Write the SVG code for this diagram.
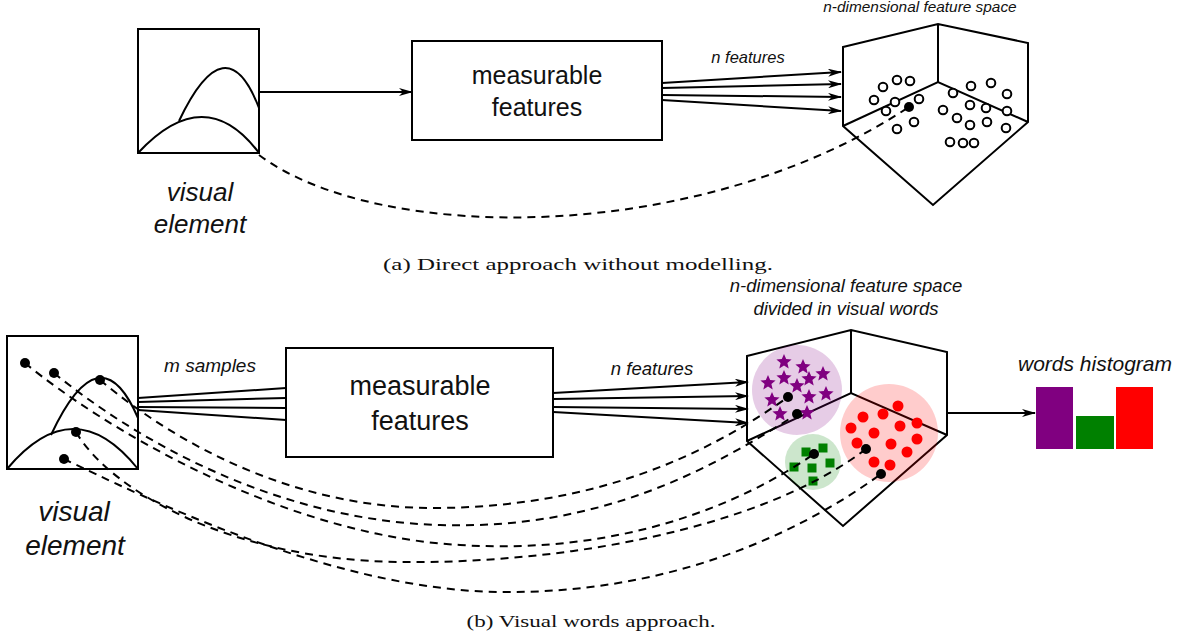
<svg xmlns="http://www.w3.org/2000/svg" width="1183" height="638" viewBox="0 0 1183 638">
<style>
.ln{fill:none;stroke:#000;stroke-width:2}
.dash{fill:none;stroke:#000;stroke-width:2;stroke-dasharray:8 6}
.bx{fill:#fff;stroke:#000;stroke-width:2}
.t{font-family:"Liberation Sans",Arial,sans-serif;font-style:italic;fill:#111;text-anchor:middle}
.tn{font-family:"Liberation Sans",Arial,sans-serif;fill:#111;text-anchor:middle}
.cap{font-family:"Liberation Serif","DejaVu Serif",serif;fill:#111;text-anchor:middle;font-size:16.5px}
.oc{fill:#fff;stroke:#000;stroke-width:2}
.bd{fill:#000}
</style>
<defs>
<marker id="ah" viewBox="0 0 14 8" refX="13" refY="4" markerWidth="14" markerHeight="8" markerUnits="userSpaceOnUse" orient="auto">
<path d="M0,0 L14,4 L0,8 L4,4 Z" fill="#000"/>
</marker>
<path id="star" d="M0,-8 L2.2,-2.9 L7.6,-2.5 L3.4,1.1 L4.7,6.5 L0,3.6 L-4.7,6.5 L-3.4,1.1 L-7.6,-2.5 L-2.2,-2.9 Z" fill="#800080"/>
<rect id="sq" x="-4.5" y="-4.5" width="9" height="9" fill="#008000"/>
</defs>

<!-- (a) -->
<g id="visual-element-a">
<rect class="bx" x="138" y="29" width="121" height="124"/>
<path class="ln" d="M138,153 Q205,81 259,153"/>
<path class="ln" d="M179,121 Q226,22 259,108"/>
<text class="t" x="200" y="201" font-size="26">visual</text>
<text class="t" x="200" y="233" font-size="26">element</text>
</g>
<g id="features-a">
<rect class="bx" x="412" y="41" width="250" height="99"/>
<text class="tn" x="537" y="84" font-size="25">measurable</text>
<text class="tn" x="537" y="116" font-size="25">features</text>
</g>
<g id="space-a">
<text class="t" x="920" y="12" font-size="15.4">n-dimensional feature space</text>
<path class="ln" d="M843,47 L938,24 L1028,43 L1028,122 L933,205 L843,126 Z M938,24 L938,82 M843,126 L938,82 L1028,122"/>
<g class="oc">
<circle cx="883" cy="87" r="4.3"/><circle cx="897" cy="80" r="4.3"/><circle cx="910" cy="81" r="4.3"/>
<circle cx="874" cy="100" r="4.3"/><circle cx="895" cy="102" r="4.3"/><circle cx="919" cy="99" r="4.3"/>
<circle cx="886" cy="111" r="4.3"/><circle cx="914" cy="122" r="4.3"/><circle cx="897" cy="129" r="4.3"/>
<circle cx="953" cy="93" r="4.3"/><circle cx="971" cy="86" r="4.3"/><circle cx="991" cy="83" r="4.3"/>
<circle cx="1007" cy="94" r="4.3"/><circle cx="943" cy="110" r="4.3"/><circle cx="970" cy="105" r="4.3"/>
<circle cx="986" cy="108" r="4.3"/><circle cx="1007" cy="111" r="4.3"/><circle cx="957" cy="118" r="4.3"/>
<circle cx="970" cy="125" r="4.3"/><circle cx="987" cy="122" r="4.3"/><circle cx="1006" cy="128" r="4.3"/>
<circle cx="950" cy="142" r="4.3"/><circle cx="963" cy="143" r="4.3"/><circle cx="974" cy="143" r="4.3"/>
</g>
<circle class="bd" cx="909" cy="107" r="5"/>
</g>
<g id="connectors-a">
<line class="ln" x1="259" y1="92" x2="412" y2="92" marker-end="url(#ah)"/>
<text class="t" x="748" y="63" font-size="16.5">n features</text>
<line class="ln" x1="662" y1="83" x2="841" y2="72" marker-end="url(#ah)"/>
<line class="ln" x1="662" y1="88" x2="841" y2="84" marker-end="url(#ah)"/>
<line class="ln" x1="662" y1="95" x2="841" y2="97" marker-end="url(#ah)"/>
<line class="ln" x1="662" y1="100" x2="841" y2="111" marker-end="url(#ah)"/>
<path class="dash" d="M259,155 C380,245 700,245 909,107"/>
</g>
<text class="cap" x="578" y="270" textLength="390" lengthAdjust="spacingAndGlyphs">(a) Direct approach without modelling.</text>

<!-- (b) -->
<g id="visual-element-b">
<rect class="bx" x="7" y="336" width="131" height="133"/>
<path class="ln" d="M7,469 Q74,389 138,469"/>
<path class="ln" d="M51,435 Q100,330 138,418"/>
<circle class="bd" cx="25" cy="363" r="5"/>
<circle class="bd" cx="54" cy="373" r="5"/>
<circle class="bd" cx="100" cy="380" r="5"/>
<circle class="bd" cx="76" cy="432" r="5"/>
<circle class="bd" cx="64" cy="459" r="5"/>
<text class="t" x="74" y="521" font-size="28">visual</text>
<text class="t" x="75" y="555" font-size="28">element</text>
</g>
<g id="features-b">
<rect class="bx" x="286" y="348" width="267" height="109"/>
<text class="tn" x="420" y="395" font-size="27">measurable</text>
<text class="tn" x="420" y="430" font-size="27">features</text>
</g>
<g id="space-b">
<text class="t" x="846" y="292" font-size="18.5">n-dimensional feature space</text>
<text class="t" x="846" y="315" font-size="18.5">divided in visual words</text>
<path class="ln" d="M747,356 L851,330 L947,352 L947,435 L843,526 L747,441 Z M851,330 L851,393 M747,441 L851,393 L947,435"/>
<circle cx="797" cy="390" r="45" fill="#800080" fill-opacity="0.2"/>
<circle cx="813" cy="462" r="28" fill="#008000" fill-opacity="0.2"/>
<circle cx="889" cy="433" r="49" fill="#ff0000" fill-opacity="0.2"/>
<use href="#star" x="784" y="362"/><use href="#star" x="803" y="367"/><use href="#star" x="823" y="374"/>
<use href="#star" x="768" y="383"/><use href="#star" x="784" y="378"/><use href="#star" x="809" y="379"/>
<use href="#star" x="797" y="386"/><use href="#star" x="826" y="394"/><use href="#star" x="772" y="400"/>
<use href="#star" x="809" y="397"/><use href="#star" x="780" y="414"/><use href="#star" x="807" y="413"/>
<use href="#sq" x="806" y="452"/><use href="#sq" x="823" y="448"/><use href="#sq" x="830" y="463"/>
<use href="#sq" x="794" y="467"/><use href="#sq" x="812" y="468"/><use href="#sq" x="813" y="481"/>
<g fill="#ff0000">
<circle cx="898" cy="406" r="5.5"/><circle cx="863" cy="417" r="5.5"/><circle cx="883" cy="414" r="5.5"/>
<circle cx="900" cy="426" r="5.5"/><circle cx="917" cy="423" r="5.5"/><circle cx="851" cy="428" r="5.5"/>
<circle cx="874" cy="433" r="5.5"/><circle cx="917" cy="439" r="5.5"/><circle cx="857" cy="443" r="5.5"/>
<circle cx="891" cy="444" r="5.5"/><circle cx="907" cy="452" r="5.5"/><circle cx="874" cy="462" r="5.5"/>
<circle cx="890" cy="465" r="5.5"/>
</g>
<circle class="bd" cx="788" cy="397" r="5"/>
<circle class="bd" cx="797" cy="414" r="5"/>
<circle class="bd" cx="814" cy="454" r="5"/>
<circle class="bd" cx="866" cy="449" r="5"/>
<circle class="bd" cx="881" cy="474" r="5"/>
</g>
<g id="histogram">
<text class="t" x="1095" y="371" font-size="21">words histogram</text>
<rect x="1036" y="387" width="37" height="62" fill="#800080"/>
<rect x="1076" y="416" width="38" height="33" fill="#008000"/>
<rect x="1116" y="387" width="37" height="62" fill="#ff0000"/>
</g>
<g id="connectors-b">
<text class="t" x="210" y="372" font-size="19">m samples</text>
<line class="ln" x1="138" y1="398" x2="286" y2="388"/>
<line class="ln" x1="138" y1="402" x2="286" y2="398"/>
<line class="ln" x1="138" y1="407" x2="286" y2="408"/>
<line class="ln" x1="138" y1="410" x2="286" y2="420"/>
<text class="t" x="652" y="375" font-size="18.5">n features</text>
<line class="ln" x1="553" y1="393" x2="748" y2="382" marker-end="url(#ah)"/>
<line class="ln" x1="553" y1="399" x2="748" y2="396" marker-end="url(#ah)"/>
<line class="ln" x1="553" y1="407" x2="748" y2="409" marker-end="url(#ah)"/>
<line class="ln" x1="553" y1="412" x2="748" y2="423" marker-end="url(#ah)"/>
<line class="ln" x1="947" y1="413" x2="1035" y2="413" marker-end="url(#ah)"/>
<path class="dash" d="M100,380 C180,447 300,510 440,508 C590,506 700,460 788,397"/>
<path class="dash" d="M54,373 C130,435 270,520 440,525 C600,530 710,470 797,414"/>
<path class="dash" d="M25,363 C100,425 280,535 460,545 C620,555 740,505 814,454"/>
<path class="dash" d="M76,432 C110,490 230,560 400,562 C560,564 760,530 866,449"/>
<path class="dash" d="M64,459 C140,495 330,590 500,592 C660,594 790,540 881,474"/>
</g>
<text class="cap" x="591" y="627" textLength="249" lengthAdjust="spacingAndGlyphs">(b) Visual words approach.</text>
</svg>
